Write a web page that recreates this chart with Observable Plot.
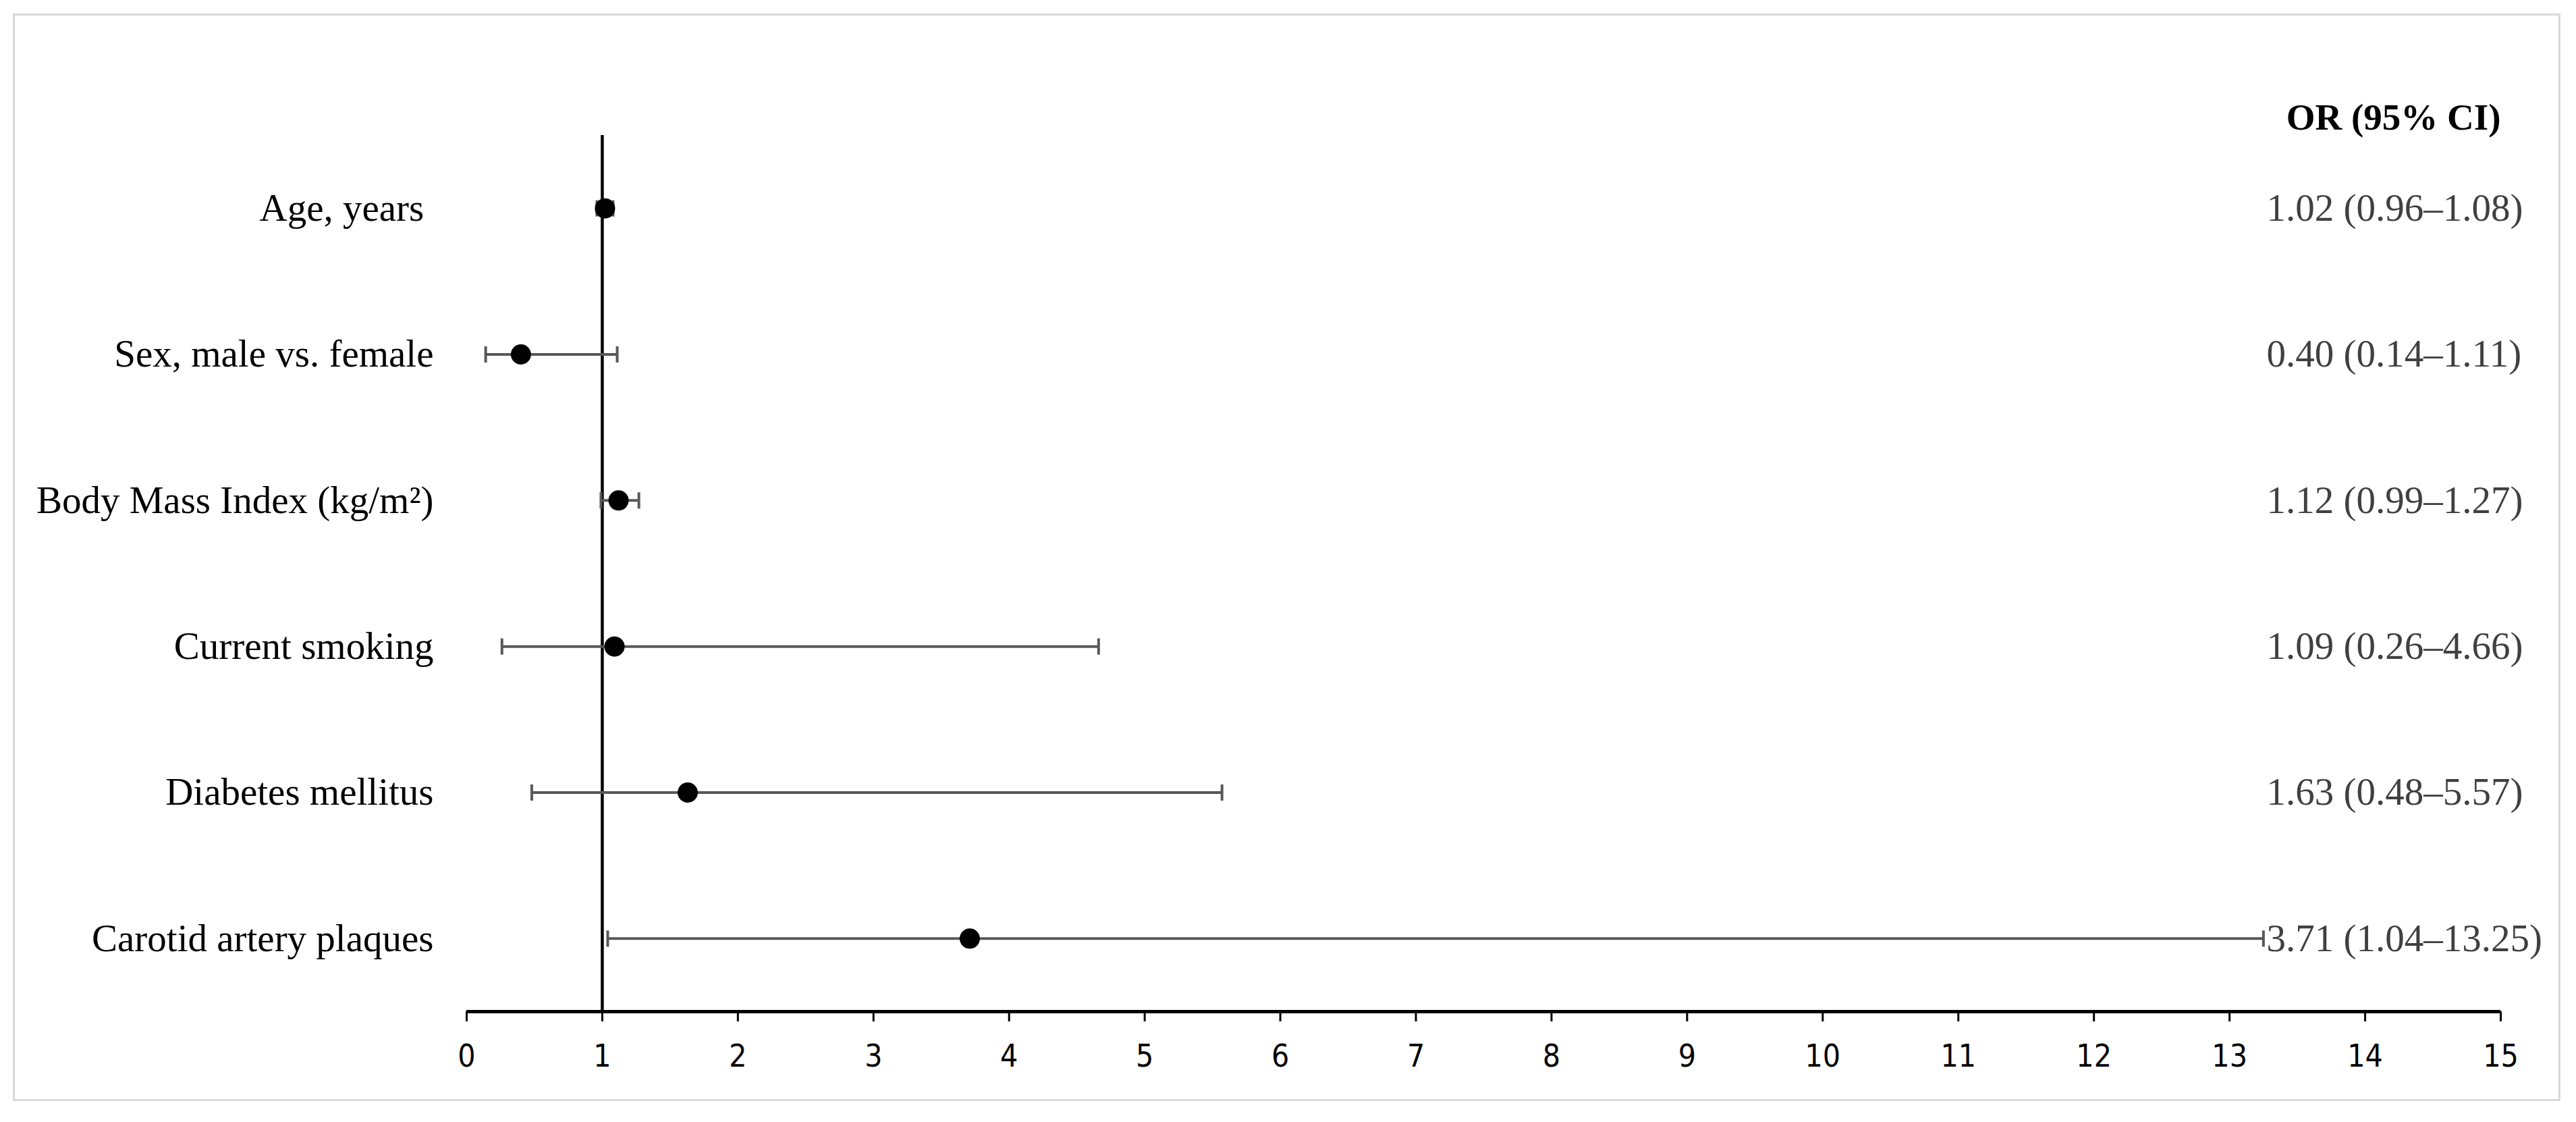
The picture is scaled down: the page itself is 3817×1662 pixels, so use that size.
<!DOCTYPE html>
<html>
<head>
<meta charset="utf-8">
<script src="https://cdn.jsdelivr.net/npm/d3@7"></script>
<script src="https://cdn.jsdelivr.net/npm/@observablehq/plot@0.6"></script>
<style>
  html, body { margin: 0; padding: 0; background: #fff; }
  #wrap { position: relative; width: 3817px; height: 1662px; overflow: hidden; }
  #wrap svg { display: block; }
  #frame { position: absolute; left: 19px; top: 20px; width: 3775px; height: 1611px;
           box-sizing: border-box; border: 3px solid #d9d9d9; pointer-events: none; }
</style>
</head>
<body>
<div id="wrap"><div id="frame"></div></div>
<script>
// ---- data ----
const categories = [
  "Age, years\u00a0",
  "Sex, male vs. female",
  "Body Mass Index (kg/m²)",
  "Current smoking",
  "Diabetes mellitus",
  "Carotid artery plaques"
];
const oddsRatio = [1.02, 0.40, 1.12, 1.09, 1.63, 3.71];
const ciLower   = [0.96, 0.14, 0.99, 0.26, 0.48, 1.04];
const ciUpper   = [1.08, 1.11, 1.27, 4.66, 5.57, 13.25];
const xTicks = [0, 1, 2, 3, 4, 5, 6, 7, 8, 9, 10, 11, 12, 13, 14, 15];
const headerLabel = "OR (95% CI)";
const referenceValue = 1;

// ---- build table ----
const rows = categories.map((name, i) => ({
  i, name, or: oddsRatio[i], lo: ciLower[i], hi: ciUpper[i]
}));
const fmt = d3.format(".2f");

const serif = "'Liberation Serif', 'Times New Roman', serif";
const narrow = "'Liberation Sans Narrow', 'DejaVu Sans Condensed', 'Liberation Sans', sans-serif";

// vertical cap symbol for error-bar ends
const capSymbol = {
  draw(context, size) {
    const r = Math.sqrt(size / Math.PI);
    context.moveTo(0, -r);
    context.lineTo(0, r);
  }
};

const chart = Plot.plot({
  width: 3817,
  height: 1662,
  marginLeft: 691,
  marginRight: 112,
  marginTop: 200,
  marginBottom: 164,
  style: { background: "transparent", color: "#000", overflow: "visible" },
  x: { domain: [0, 15] },
  y: { domain: [-0.5, 5.5], reverse: true },
  marks: [
    // x axis
    Plot.axisX({
      ticks: xTicks, tickFormat: d => String(d), tickSize: 15, tickPadding: 34,
      strokeWidth: 3, fontSize: 46, fontFamily: narrow, label: null
    }),
    Plot.ruleY([categories.length - 0.5], { x1: xTicks[0], x2: xTicks[xTicks.length - 1], stroke: "#000", strokeWidth: 5 }),
    // y axis (category labels)
    Plot.axisY({
      ticks: d3.range(categories.length), tickFormat: i => categories[i],
      tickSize: 0, tickPadding: 49, fontSize: 57, fontFamily: serif, label: null
    }),
    // reference line at OR = 1
    Plot.ruleX([referenceValue], { stroke: "#000", strokeWidth: 4.5 }),
    // confidence intervals
    Plot.ruleY(rows, { y: "i", x1: "lo", x2: "hi", stroke: "#595959", strokeWidth: 4 }),
    Plot.dot(rows, { x: "lo", y: "i", symbol: capSymbol, r: 12, stroke: "#595959", strokeWidth: 4, fill: "none" }),
    Plot.dot(rows, { x: "hi", y: "i", symbol: capSymbol, r: 12, stroke: "#595959", strokeWidth: 4, fill: "none" }),
    // point estimates
    Plot.dot(rows, { x: "or", y: "i", r: 15, fill: "#000", stroke: "none" }),
    // value labels
    Plot.text(rows, {
      frameAnchor: "right", y: "i", dx: -347, textAnchor: "start",
      text: d => `${fmt(d.or)} (${fmt(d.lo)}–${fmt(d.hi)})`,
      fill: "#404040", fontSize: 57, fontFamily: serif
    }),
    // header
    Plot.text([headerLabel], {
      frameAnchor: "right", y: () => -0.62, textAnchor: "end", dx: 0,
      text: d => d, fill: "#000", fontSize: 55, fontWeight: "bold", fontFamily: serif
    })
  ]
});

document.getElementById("wrap").insertBefore(chart, document.getElementById("frame"));
</script>
</body>
</html>
